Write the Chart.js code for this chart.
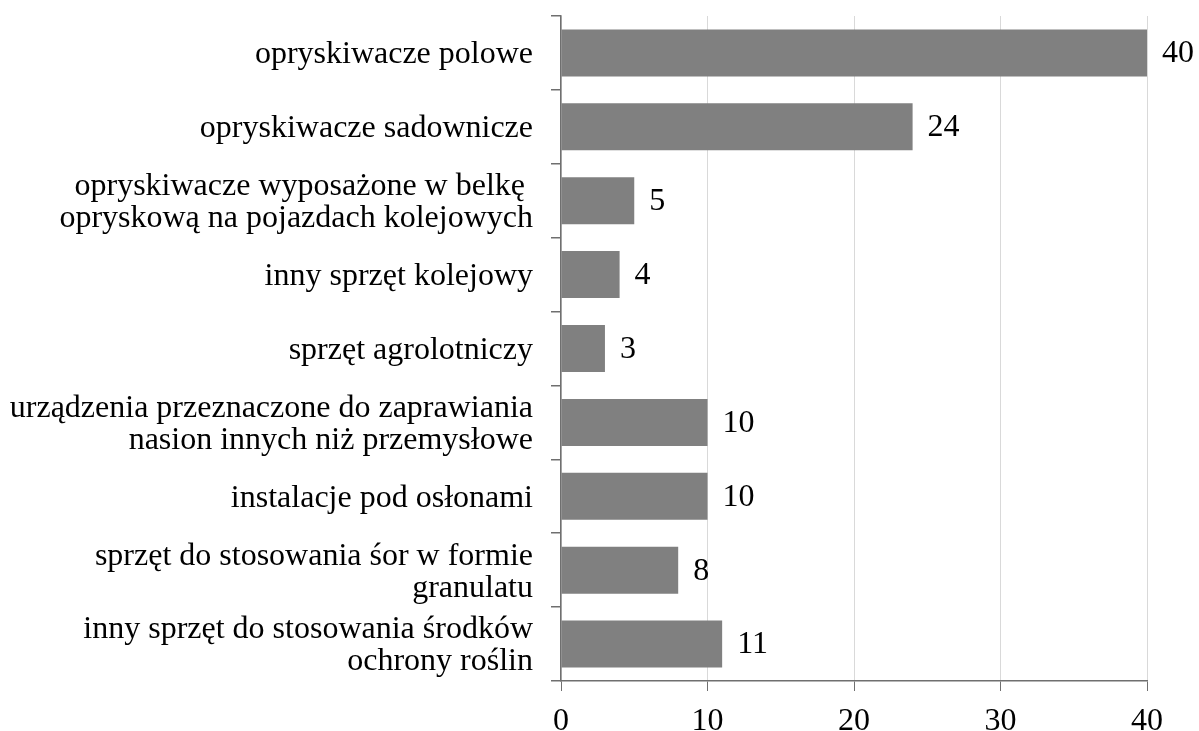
<!DOCTYPE html>
<html>
<head>
<meta charset="utf-8">
<script src="https://cdn.jsdelivr.net/npm/chart.js@4"></script>
<style>
  html, body { margin: 0; padding: 0; background: #fff; }
  #wrap { width: 1199px; height: 731px; position: relative; }
</style>
</head>
<body>
<div id="wrap"><canvas id="chart"></canvas></div>
<script>
// dane
const categories = [
    'opryskiwacze polowe',
    'opryskiwacze sadownicze',
    ['opryskiwacze wyposażone w belkę ', 'opryskową na pojazdach kolejowych'],
    'inny sprzęt kolejowy',
    'sprzęt agrolotniczy',
    ['urządzenia przeznaczone do zaprawiania', 'nasion innych niż przemysłowe'],
    'instalacje pod osłonami',
    ['sprzęt do stosowania śor w formie', 'granulatu'],
    ['inny sprzęt do stosowania środków', 'ochrony roślin'],
];
const values = [40, 24, 5, 4, 3, 10, 10, 8, 11];
const xTicks = [0, 10, 20, 30, 40];

const serif = "'Liberation Serif', 'Times New Roman', serif";
const axisColor = '#6f6f6f';

// etykiety wartości przy słupkach
const valueLabels = {
    id: 'valueLabels',
    afterDatasetsDraw(chart) {
        const ctx = chart.ctx;
        const meta = chart.getDatasetMeta(0);
        ctx.save();
        ctx.font = '32px ' + serif;
        ctx.fillStyle = '#000';
        ctx.textAlign = 'left';
        ctx.textBaseline = 'middle';
        meta.data.forEach((bar, i) => {
            ctx.fillText(String(values[i]), bar.x + 15, bar.y + 1);
        });
        ctx.restore();
    },
};

new Chart(document.getElementById('chart'), {
    type: 'bar',
    data: {
        labels: categories,
        datasets: [{
            data: values,
            backgroundColor: '#808080',
            borderWidth: 0,
            barPercentage: 0.636,
            categoryPercentage: 1,
        }],
    },
    options: {
        indexAxis: 'y',
        responsive: true,
        maintainAspectRatio: false,
        animation: false,
        layout: { padding: { top: 16, right: 52, left: 0, bottom: 0 } },
        plugins: {
            legend: { display: false },
            tooltip: { enabled: false },
        },
        scales: {
            x: {
                min: 0,
                max: 40,
                afterBuildTicks: (axis) => { axis.ticks = xTicks.map((v) => ({ value: v })); },
                afterFit: (axis) => {
                    axis.height = 50;
                    axis.paddingLeft = 0;
                    axis.paddingRight = 0;
                },
                grid: {
                    color: '#d9d9d9',
                    lineWidth: 1,
                    tickColor: axisColor,
                    tickLength: 10,
                },
                border: { color: axisColor, width: 1.5 },
                ticks: {
                    color: '#000',
                    font: { family: serif, size: 32 },
                    padding: 11,
                },
            },
            y: {
                afterFit: (axis) => {
                    axis.width = 561;
                    axis.paddingTop = 0;
                    axis.paddingBottom = 0;
                },
                grid: {
                    display: true,
                    drawOnChartArea: false,
                    offset: true,
                    color: axisColor,
                    tickLength: 10,
                    lineWidth: 1.5,
                },
                border: { color: axisColor, width: 1.5 },
                ticks: {
                    color: '#000',
                    font: { family: serif, size: 32, lineHeight: 1.0 },
                    padding: 18,
                    labelOffset: 2,
                    autoSkip: false,
                },
            },
        },
    },
    plugins: [valueLabels],
});
</script>
</body>
</html>
